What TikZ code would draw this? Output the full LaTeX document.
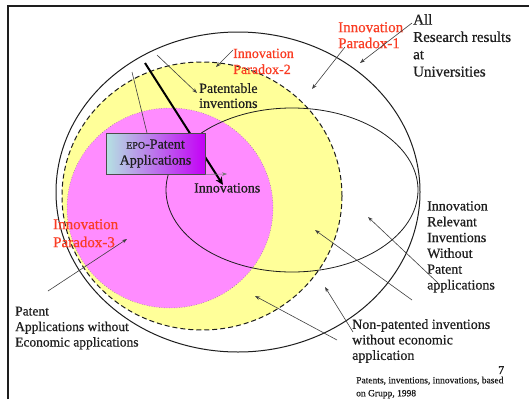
\documentclass[tikz,border=0pt]{standalone}
\usepackage{fontspec}
\setmainfont{Liberation Serif}[FakeBold=0.6]
\usetikzlibrary{shapes.geometric,arrows.meta}
\definecolor{ylw}{RGB}{255,255,153}
\definecolor{pnk}{RGB}{255,140,255}
\definecolor{redtxt}{RGB}{250,60,35}
\definecolor{boxl}{RGB}{180,226,226}
\definecolor{boxr}{RGB}{196,0,246}
\definecolor{ink}{RGB}{30,30,30}
\begin{document}
\begin{tikzpicture}[x=1pt,y=-1pt,
  setshape/.style={ellipse,inner sep=0pt,outer sep=0pt},
  lbl/.style={inner sep=0pt,anchor=north west,align=left,text=ink},
  paradox/.style={inner sep=0pt,anchor=north west,align=left,text=redtxt},
  ptr/.style={draw=ink!85,line width=0.6pt,-{Stealth[length=5pt,width=3.6pt]}},
]
\useasboundingbox (0,0) rectangle (529,399);
\fill[white] (0,0) rectangle (529,399);
\draw[line width=1.4pt,ink] (8,399) -- (8,6) -- (529,6);

% sets
\node[setshape,draw=ink,line width=1pt,minimum width=364pt,minimum height=320pt] (all) at (238,192) {};
\node[setshape,fill=ylw,draw=ink,line width=1pt,dash pattern=on 5pt off 3pt,minimum width=280pt,minimum height=268pt] (pat) at (202,196) {};
\node[setshape,fill=pnk,draw=ink!60,line width=0.5pt,dotted,minimum width=206pt,minimum height=200pt] (epo) at (170,208) {};
\node[setshape,draw=ink,line width=0.8pt,minimum width=252pt,minimum height=164pt] (inno) at (292,190) {};

% coordinates for pointer ends
\coordinate (thkS) at (145,63);
\coordinate (thkE) at (223,185);
\coordinate (thinS) at (132,72);
\coordinate (thinE) at (147,133);
\coordinate (ptS) at (157,55);
\coordinate (ptE) at (197,93);
\coordinate (p2S) at (233,50);
\coordinate (p2E) at (216,67);
\coordinate (p1S) at (345,47);
\coordinate (p1E) at (312,89);
\coordinate (alS) at (412,23);
\coordinate (alE) at (360,63);
\coordinate (p3S) at (48,291);
\coordinate (p3E) at (127,239);
\coordinate (r1S) at (412,300);
\coordinate (r1E) at (315,230);
\coordinate (r2S) at (438,283);
\coordinate (r2E) at (368,217);
\coordinate (b1S) at (337,340);
\coordinate (b1E) at (255,296);
\coordinate (b2S) at (353,332);
\coordinate (b2E) at (325,287);
\coordinate (smE) at (227,174);

% thick arrow behind the box
\draw[line width=2pt,black,-{Stealth[length=8pt,width=7pt]}] (thkS) -- (thkE);
\draw[draw=ink!85,line width=0.6pt] (thinS) -- (thinE);

% box
\node[draw=ink!80,line width=0.8pt,left color=boxl,right color=boxr,minimum width=99pt,minimum height=41pt,inner sep=0pt,align=center,text=ink,font=\fontsize{14}{16}\selectfont] (box) at (155.5,153.5) {{\fontsize{10}{10}\selectfont EPO}-Patent\\Applications};
\draw[ptr,draw=ink!60] (box.south east) -- (smE);

% labels
\node[lbl,font=\fontsize{15}{17.3}\selectfont] (alltxt) at (413,14) {All\\Research results\\at\\Universities};
\node[paradox,font=\fontsize{15}{16}\selectfont] (par1) at (338,22) {Innovation\\Paradox-1};
\node[paradox,font=\fontsize{14}{16}\selectfont] (par2) at (233,48.5) {Innovation\\Paradox-2};
\node[lbl,font=\fontsize{14}{15}\selectfont] (pattxt) at (199,83) {Patentable\\inventions};
\node[lbl,font=\fontsize{14}{15}\selectfont] (innotxt) at (194,183) {Innovations};
\node[paradox,font=\fontsize{15}{18}\selectfont] (par3) at (53,219) {Innovation\\Paradox-3};
\node[lbl,font=\fontsize{14}{15.8}\selectfont] (reltxt) at (427,201) {Innovation\\Relevant\\Inventions\\Without\\Patent\\applications};
\node[lbl,font=\fontsize{13.5}{15.5}\selectfont] (noecon) at (15,306.5) {Patent\\Applications without\\Economic applications};
\node[lbl,font=\fontsize{14}{15.5}\selectfont] (nonpat) at (352,319) {Non-patented inventions\\without economic\\application};
\node[lbl,font=\fontsize{9.5}{13}\selectfont] (src) at (356,376.5) {Patents, inventions, innovations, based\\on Grupp, 1998};
\node[lbl,font=\fontsize{12}{12}\selectfont] (pg) at (498,366) {7};

% pointers
\draw[ptr] (ptS) -- (ptE);
\draw[ptr] (p2S) -- (p2E);
\draw[ptr] (p1S) -- (p1E);
\draw[ptr] (alS) -- (alE);
\draw[ptr] (p3S) -- (p3E);
\draw[ptr] (r1S) -- (r1E);
\draw[ptr] (r2S) -- (r2E);
\draw[ptr] (b1S) -- (b1E);
\draw[ptr] (b2S) -- (b2E);
\end{tikzpicture}
\end{document}
